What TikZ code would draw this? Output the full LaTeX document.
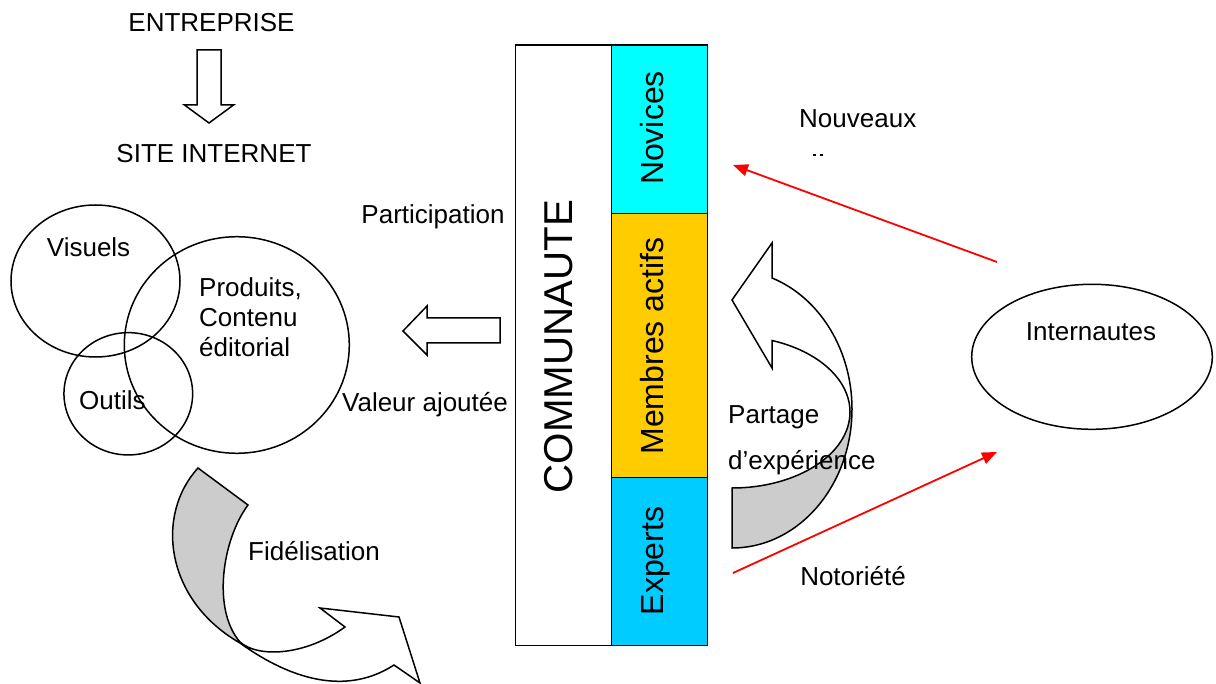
\documentclass[tikz,border=0pt]{standalone}
\usepackage{fontspec}
\setmainfont{Liberation Sans}
\usetikzlibrary{arrows.meta,shapes.geometric}
\definecolor{novc}{HTML}{00FFFF}
\definecolor{memc}{HTML}{FFCC00}
\definecolor{expc}{HTML}{00CCFF}
\definecolor{greyfill}{HTML}{CCCCCC}
\begin{document}
\begin{tikzpicture}[x=1pt,y=-1pt,
  lbl/.style={inner sep=0pt, font=\fontsize{26}{30}\selectfont},
  collbl/.style={inner sep=0pt, rotate=90, anchor=base, font=\fontsize{32}{36}\selectfont},
  outl/.style={draw=black, line width=1.5pt, line join=miter},
  cell/.style={outl, inner sep=0pt, minimum width=96pt},
  oval/.style={outl, ellipse, inner sep=0pt},
  redarr/.style={draw=red, line width=1.8pt, -{Triangle[length=15pt,width=12pt]}},
]
\useasboundingbox (0,0) rectangle (1216,684);
\clip (0,0) rectangle (1216,684);

% ENTREPRISE -> SITE INTERNET
\node[lbl, anchor=base] (ent) at (211.5,32) {ENTREPRISE};
\draw[outl] (197,50) -- (221,50) -- (221,105) -- (233.5,105) -- (209,123)
  -- (184.5,105) -- (197,105) -- cycle;
\node[lbl, anchor=base] (site) at (214,163) {SITE INTERNET};

% circles
\node[oval, minimum width=169pt, minimum height=152pt] (vis) at (95.5,281) {};
\node[oval, minimum width=225pt, minimum height=216.6pt] (prod) at (236.8,345) {};
\node[oval, minimum width=128.7pt, minimum height=122.3pt] (out) at (128.3,393.8) {};
\node[lbl, anchor=base west] (tvis) at (46.7,256.7) {Visuels};
\node[lbl, anchor=base west] (tp1) at (199,296.7) {Produits,};
\node[lbl, anchor=base west] (tp2) at (199,326.7) {Contenu};
\node[lbl, anchor=base west] (tp3) at (199,356.7) {éditorial};
\node[lbl, anchor=base west] (tout) at (79,410) {Outils};

% left block arrow
\draw[outl] (500,318) -- (427,318) -- (427,306) -- (403,331) -- (427,355)
  -- (427,343) -- (500,343) -- cycle;
\node[lbl, anchor=base] (part) at (433,223.5) {Participation};
\node[lbl, anchor=base] (val) at (425,412) {Valeur ajoutée};

% communaute column
\node[cell, fill=white, minimum height=600.5pt] (comm) at (563.5,345.25) {};
\node[cell, fill=novc, minimum height=168.3pt] (nov) at (659.5,129.15) {};
\node[cell, fill=memc, minimum height=264.4pt] (mem) at (659.5,345.5) {};
\node[cell, fill=expc, minimum height=167.8pt] (exp) at (659.5,561.6) {};
\node[inner sep=0pt, rotate=90, anchor=base, font=\fontsize{40.3}{44}\selectfont] (tcomm) at (572,346.5) {COMMUNAUTE};
\node[collbl] (tnov) at (663,128) {Novices};
\node[collbl] (tmem) at (663,346) {Membres actifs};
\node[collbl] (texp) at (663,561) {Experts};

% Fidelisation curved arrow
\fill[greyfill] (198,468) -- (248,505) .. controls (222,540) and (212,610) .. (240,642)
  .. controls (165,600) and (155,515) .. (198,468) -- cycle;
\draw[outl] (198,468) -- (248,505) .. controls (222,540) and (212,610) .. (240,642)
  .. controls (258,658) and (305,656) .. (345,627) -- (320,608) -- (399,617)
  -- (420,683) -- (394,665) .. controls (340,700) and (280,672) .. (240,643)
  .. controls (165,600) and (155,515) .. (198,468) -- cycle;
\node[lbl, anchor=base] (tfid) at (314,560) {Fidélisation};

% Partage curved arrow
\fill[greyfill] (850,412) .. controls (850,454) and (797.2,488) .. (732,488)
  -- (732,548) .. controls (798.3,548) and (852,485.8) .. (852,409) -- cycle;
\draw[outl] (732,488) -- (732,548) .. controls (798.3,548) and (852,485.8) .. (852,409)
  .. controls (852,350.2) and (819.8,297.6) .. (772,278) -- (772,243) -- (732,300)
  -- (772,368) -- (772,340.5) .. controls (818.8,351.3) and (850,380) .. (850,412)
  .. controls (850,454) and (797.2,488) .. (732,488) -- cycle;
\node[lbl, anchor=base west] (tpa1) at (728,423.5) {Partage};
\node[lbl, anchor=base west] (tpa2) at (728,469) {d’expérience};

% Internautes
\node[oval, minimum width=240.6pt, minimum height=145pt] (int) at (1092,356.8) {};
\node[lbl, anchor=base] (tint) at (1091,340.7) {Internautes};

% red arrows
\coordinate (r1s) at (997,262);
\coordinate (r1e) at (733,165);
\coordinate (r2s) at (733,573);
\coordinate (r2e) at (997,452);
\draw[redarr] (r1s) -- (r1e);
\draw[redarr] (r2s) -- (r2e);
\node[lbl, anchor=base west] (tnouv) at (799,128) {Nouveaux};
\fill (813.3,154.3) rectangle (816,155.8);
\fill (820,154.3) rectangle (822.7,155.8);
\node[lbl, anchor=base] (tnot) at (853,585) {Notoriété};
\end{tikzpicture}
\end{document}
